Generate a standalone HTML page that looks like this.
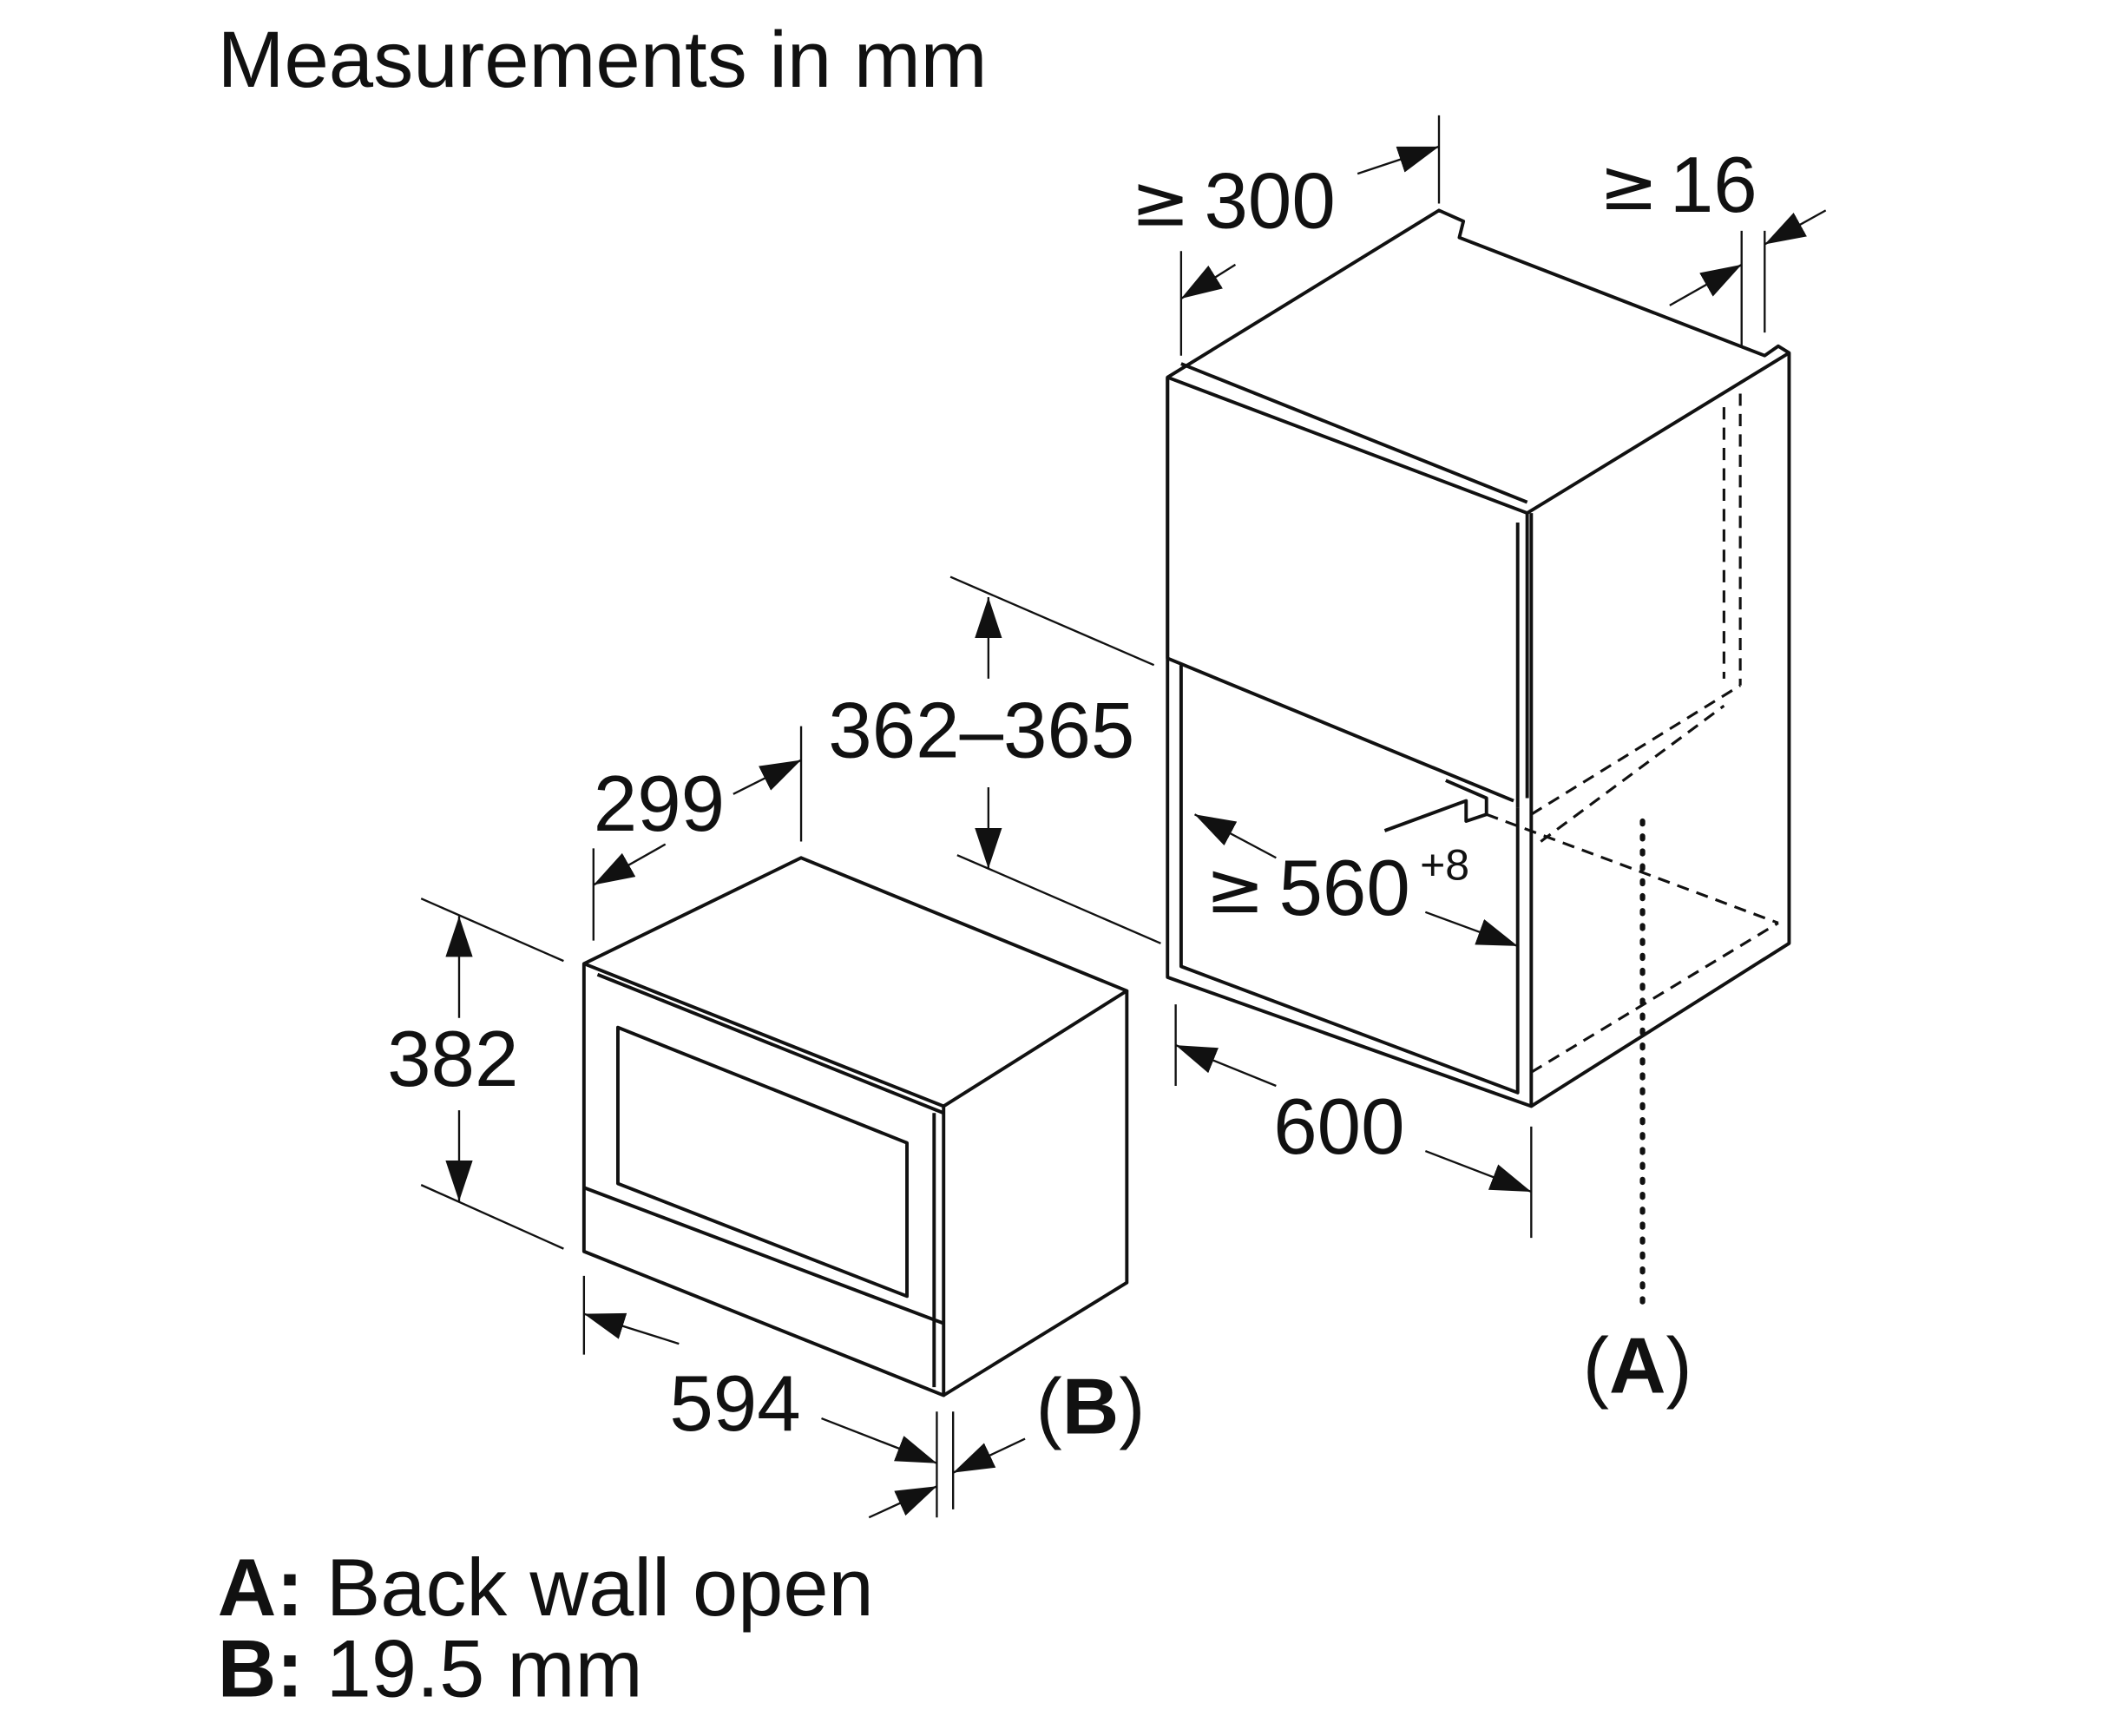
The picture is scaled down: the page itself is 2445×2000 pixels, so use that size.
<!DOCTYPE html>
<html><head><meta charset="utf-8"><style>
html,body{margin:0;padding:0;background:#fff;}
svg{display:block;}
text{font-family:"Liberation Sans",sans-serif;fill:#111;}
.g{font-family:"DejaVu Sans","Liberation Sans",sans-serif;}
</style></head><body>
<svg width="2445" height="2000" viewBox="0 0 1563 1279" xmlns="http://www.w3.org/2000/svg">
<defs>
<marker id="b" viewBox="0 0 30 20" refX="30" refY="10" markerWidth="30" markerHeight="20" orient="auto-start-reverse" markerUnits="userSpaceOnUse"><path d="M0,0 L30,10 L0,20 z" fill="#111"/></marker>
</defs>
<rect width="1563" height="1279" fill="#fff"/>
<text x="160" y="64" font-size="59">Measurements in mm</text>

<g fill="none" stroke="#111" stroke-width="2.5" stroke-linejoin="round">
<path d="M860,278 L1060,155 L1078,163 L1075,175 L1300,262 L1310,255 L1318,260 L1318,695 L1128,815 L860,720 Z"/>
<path d="M860,278 L1125,378 L1318,260"/>
<path d="M870,268 L1125,370"/>
<path d="M1125,378 L1125,588 M1118,385 L1118,595"/>
<path d="M860,278 L860,485 L1115,590"/>
<path d="M870,490 L870,712 L1118,805 L1118,595"/>
<path d="M1128,378 L1128,815"/>
<path d="M1065,575 L1095,588 L1095,600 L1080,605 L1080,590 L1020,612"/>
<path d="M430,710 L590,632 L830,730 L695,815 L695,1028 L430,922 Z"/>
<path d="M695,815 L430,710 M440,718 L695,820 M830,730 L830,945 L695,1028"/>
<path d="M688,820 L688,1022"/>
<path d="M455,757 L668,842 L668,955 L455,872 Z"/>
<path d="M430,875 L695,975"/>
</g>
<g fill="none" stroke="#111" stroke-width="2" stroke-dasharray="9,6">
<path d="M1270,300 L1270,500 M1282,290 L1282,505"/>
<path d="M1128,600 L1282,505 M1135,620 L1270,520"/>
<path d="M1128,790 L1310,680 M1095,600 L1310,680"/>
</g>
<path d="M1210,605 L1210,960" stroke="#111" stroke-width="4" stroke-dasharray="2,9" stroke-linecap="round"/>

<g stroke="#111" stroke-width="1.5" fill="none">
<path d="M870,185 L870,262 M1060,85 L1060,150"/>
<path d="M1283,170 L1283,255 M1300,170 L1300,245"/>
<path d="M700,425 L850,490 M705,630 L855,695"/>
<path d="M310,662 L415,708 M310,873 L415,920"/>
<path d="M437,625 L437,693 M590,535 L590,620"/>
<path d="M866,740 L866,800 M1128,830 L1128,912"/>
<path d="M430,940 L430,998 M690,1040 L690,1118 M702,1040 L702,1112"/>
</g>
<g stroke="#111" stroke-width="1.5" fill="none" marker-end="url(#b)">
<path d="M1000,128 L1060,108"/>
<path d="M910,195 L870,220"/>
<path d="M1230,225 L1283,195"/>
<path d="M1345,155 L1300,180"/>
<path d="M728,500 L728,440"/>
<path d="M728,580 L728,640"/>
<path d="M338,750 L338,675"/>
<path d="M338,818 L338,885"/>
<path d="M490,622 L437,652"/>
<path d="M540,585 L590,560"/>
<path d="M940,632 L880,600"/>
<path d="M1050,672 L1118,697"/>
<path d="M940,800 L866,770"/>
<path d="M1050,848 L1128,878"/>
<path d="M500,990 L430,968"/>
<path d="M605,1045 L690,1078"/>
<path d="M755,1060 L702,1085"/>
<path d="M640,1118 L690,1095"/>
</g>

<g font-size="58">
<text x="833" y="166" class="g" font-size="52">≥</text>
<text x="887" y="168">300</text>
<text x="1178" y="154" class="g" font-size="52">≥</text>
<text x="1230" y="156">16</text>
<text x="610" y="558">362–365</text>
<text x="437" y="612">299</text>
<text x="285" y="800">382</text>
<text x="888" y="672" class="g" font-size="52">≥</text>
<text x="942" y="674">560</text>
<text x="1046" y="648" font-size="32">+8</text>
<text x="938" y="850">600</text>
<text x="493" y="1054">594</text>
<text x="763" y="1056">(<tspan font-weight="bold">B</tspan>)</text>
<text x="1166" y="1026">(<tspan font-weight="bold">A</tspan>)</text>
<text x="160" y="1190" font-size="60"><tspan font-weight="bold">A:</tspan> Back wall open</text>
<text x="160" y="1250" font-size="60"><tspan font-weight="bold">B:</tspan> 19.5 mm</text>
</g>
</svg>
</body></html>
